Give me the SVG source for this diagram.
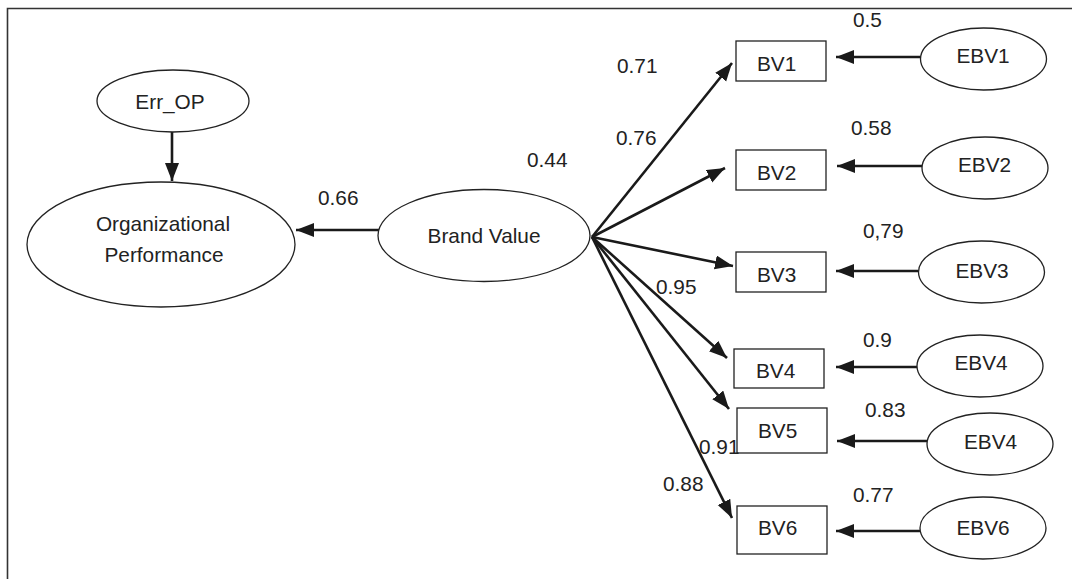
<svg xmlns="http://www.w3.org/2000/svg" width="1072" height="579" viewBox="0 0 1072 579">
<style>
text{font-family:"Liberation Sans",Arial,sans-serif;font-size:20.8px;fill:#222}
.node ellipse,.node rect{fill:#fff;stroke:#222;stroke-width:1.3}
.c line{stroke:#1a1a1a;stroke-width:2.6;marker-end:url(#ah)}
.frame{stroke:#333;stroke-width:1.6;fill:none}
</style>
<defs>
<marker id="ah" markerUnits="userSpaceOnUse" markerWidth="20" markerHeight="16" refX="18" refY="7" orient="auto">
<path d="M0,0 L18,7 L0,14 z" fill="#1a1a1a"/>
</marker>
</defs>
<rect width="1072" height="579" fill="#fff"/>
<path class="frame" d="M7.5,579 V8.5 H1072"/>

<g class="c">
<line x1="172" y1="132" x2="172" y2="181"/>
<line x1="379" y1="230" x2="296" y2="230"/>
<line x1="592" y1="237" x2="732" y2="63"/>
<line x1="592" y1="237" x2="725" y2="168"/>
<line x1="592" y1="237" x2="733" y2="266"/>
<line x1="592" y1="237" x2="727" y2="358"/>
<line x1="592" y1="237" x2="729" y2="409"/>
<line x1="592" y1="237" x2="732" y2="518"/>
<line x1="920" y1="57" x2="836" y2="57"/>
<line x1="922" y1="166" x2="837" y2="166"/>
<line x1="918" y1="271" x2="836" y2="271"/>
<line x1="917" y1="367" x2="836" y2="367"/>
<line x1="927" y1="441" x2="837" y2="441"/>
<line x1="920" y1="531" x2="836" y2="531"/>
</g>

<g id="err_op" class="node"><ellipse cx="173" cy="101" rx="76" ry="31"/><text x="170" y="109" text-anchor="middle">Err_OP</text></g>
<g id="org_perf" class="node"><ellipse cx="161" cy="244.5" rx="134" ry="62.5"/><text x="163" y="231" text-anchor="middle">Organizational</text><text x="164" y="262" text-anchor="middle">Performance</text></g>
<g id="brand_value" class="node"><ellipse cx="484" cy="235.5" rx="106" ry="46"/><text x="484" y="243" text-anchor="middle">Brand Value</text></g>

<g id="bv1" class="node"><rect x="736" y="41" width="90" height="40"/><text x="757" y="71">BV1</text></g>
<g id="bv2" class="node"><rect x="736" y="150" width="90" height="40"/><text x="757" y="180">BV2</text></g>
<g id="bv3" class="node"><rect x="736" y="252" width="90" height="40"/><text x="757" y="282">BV3</text></g>
<g id="bv4" class="node"><rect x="734" y="349" width="90" height="39"/><text x="756" y="378">BV4</text></g>
<g id="bv5" class="node"><rect x="737" y="408" width="90" height="45"/><text x="758" y="438">BV5</text></g>
<g id="bv6" class="node"><rect x="737" y="506" width="90" height="48"/><text x="758" y="535">BV6</text></g>

<g id="ebv1" class="node"><ellipse cx="983.5" cy="59" rx="63" ry="31"/><text x="983" y="63" text-anchor="middle">EBV1</text></g>
<g id="ebv2" class="node"><ellipse cx="985" cy="168" rx="63" ry="31"/><text x="984.5" y="172" text-anchor="middle">EBV2</text></g>
<g id="ebv3" class="node"><ellipse cx="981.5" cy="272" rx="63" ry="31"/><text x="982" y="278" text-anchor="middle">EBV3</text></g>
<g id="ebv4" class="node"><ellipse cx="980" cy="366" rx="63" ry="31"/><text x="981" y="370" text-anchor="middle">EBV4</text></g>
<g id="ebv4b" class="node"><ellipse cx="990" cy="444" rx="63" ry="31"/><text x="990.5" y="449" text-anchor="middle">EBV4</text></g>
<g id="ebv6" class="node"><ellipse cx="983" cy="528" rx="63" ry="31"/><text x="983" y="535" text-anchor="middle">EBV6</text></g>

<g id="labels">
<text x="318" y="205">0.66</text>
<text x="527" y="167">0.44</text>
<text x="617" y="73">0.71</text>
<text x="616" y="145">0.76</text>
<text x="656" y="294">0.95</text>
<text x="699" y="454">0.91</text>
<text x="663" y="491">0.88</text>
<text x="853" y="27">0.5</text>
<text x="851" y="135">0.58</text>
<text x="863" y="238">0,79</text>
<text x="863" y="347">0.9</text>
<text x="865" y="417">0.83</text>
<text x="853" y="502">0.77</text>
</g>
</svg>
